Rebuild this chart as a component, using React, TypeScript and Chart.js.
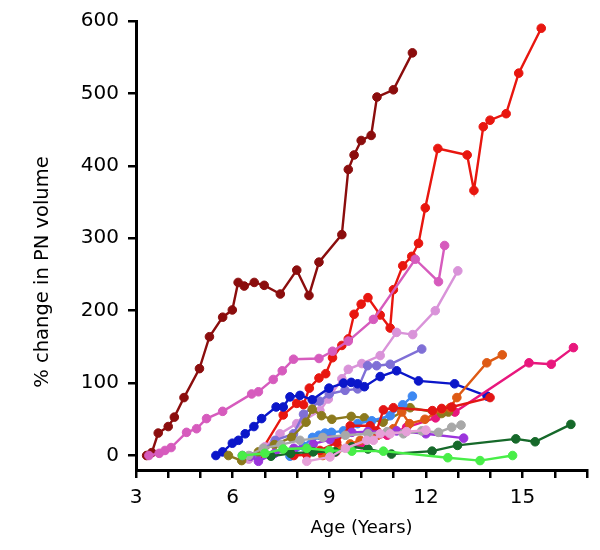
import { useEffect, useRef } from 'react';
import { Chart, registerables } from 'chart.js';

Chart.register(...registerables);

const FONT = '"DejaVu Sans", sans-serif';

// Axis ticks
const xTickValues = [3, 4, 5, 6, 7, 8, 9, 10, 11, 12, 13, 14, 15, 16, 17];
const xTickLabels = [3, 6, 9, 12, 15];
const yTickValues = [0, 100, 200, 300, 400, 500, 600];
const xTitle = 'Age (Years)';
const yTitle = '% change in PN volume';

// Series data (age in years, % change)
const maroonAge = [3.33, 3.49, 3.69, 4.0, 4.19, 4.49, 4.97, 5.28, 5.69, 5.99, 6.17, 6.36, 6.67, 6.98, 7.48, 7.99, 8.37, 8.68, 9.39, 9.59, 9.77, 9.99, 10.3, 10.48, 10.99, 11.58];
const maroonPct = [0, 4, 31, 40, 53, 80, 120, 164, 191, 201, 239, 234, 239, 235, 223, 256, 221, 267, 305, 395, 415, 435, 442, 495, 505, 556];

const redAge = [6.8, 7.57, 7.99, 8.2, 8.38, 8.68, 8.89, 9.1, 9.39, 9.59, 9.77, 9.99, 10.2, 10.58, 10.89, 10.99, 11.28, 11.56, 11.77, 11.98, 12.37, 13.28, 13.49, 13.78, 13.99, 14.49, 14.88, 15.58];
const redPct = [0, 56, 72, 70, 93, 107, 113, 135, 152, 161, 195, 209, 218, 194, 176, 229, 262, 275, 293, 342, 424, 415, 366, 454, 463, 472, 528, 590];

const orchidAge = [3.4, 3.72, 3.9, 4.09, 4.57, 4.88, 5.19, 5.69, 6.59, 6.8, 7.26, 7.54, 7.89, 8.68, 9.1, 9.59, 10.37, 11.67, 12.39, 12.58];
const orchidPct = [0, 3, 7, 11, 32, 37, 51, 61, 85, 88, 105, 117, 133, 134, 144, 158, 188, 271, 240, 290];

const plumAge = [6.5, 7.0, 7.47, 7.99, 8.2, 8.71, 8.97, 9.39, 9.59, 10.01, 10.58, 11.09, 11.59, 12.29, 12.99];
const plumPct = [-5, 12, 30, 44, 48, 62, 78, 106, 119, 127, 138, 170, 167, 200, 255];

const slateAge = [6.75, 7.32, 7.89, 8.2, 8.7, 9.0, 9.49, 9.88, 10.19, 10.47, 10.89, 11.87];
const slatePct = [0, 21, 30, 57, 75, 85, 90, 92, 124, 124, 126, 147];

const blueAge = [5.48, 5.69, 5.99, 6.18, 6.39, 6.66, 6.9, 7.35, 7.57, 7.78, 8.09, 8.47, 8.99, 9.44, 9.68, 9.88, 10.09, 10.58, 11.09, 11.77, 12.89, 13.9];
const bluePct = [0, 5, 17, 21, 30, 40, 51, 67, 67, 81, 83, 77, 93, 100, 101, 99, 95, 109, 117, 103, 99, 82];

const deepPinkAge = [9.2, 10.0, 10.8, 11.4, 12.3, 12.9, 15.2, 15.89, 16.58];
const deepPinkPct = [5, 15, 28, 39, 52, 60, 128, 126, 149];

const orangeAge = [8.8, 9.3, 9.65, 9.96, 10.5, 10.99, 11.25, 11.49, 11.97, 12.49, 12.75, 12.96, 13.89, 14.37];
const orangePct = [0, 10, 16, 21, 28, 37, 60, 44, 50, 64, 66, 80, 128, 139];

const oliveAge = [5.87, 6.28, 6.8, 7.3, 7.83, 8.28, 8.47, 8.76, 9.08, 9.68, 10.09, 10.67, 11.51, 12.49, 12.7];
const olivePct = [0, -7, 5, 15, 25, 46, 64, 55, 50, 54, 52, 46, 66, 58, 60];

const dodgerAge = [7.78, 8.2, 8.48, 8.68, 8.87, 9.07, 9.44, 9.88, 10.32, 10.89, 11.28, 11.58];
const dodgerPct = [-1, 13, 25, 28, 31, 32, 34, 44, 48, 55, 70, 82];

const grayAge = [6.5, 6.95, 7.5, 8.09, 8.8, 9.5, 10.2, 10.8, 11.3, 11.87, 12.39, 12.8, 13.09];
const grayPct = [0, 10, 15, 21, 25, 28, 30, 33, 30, 34, 32, 39, 42];

const violetAge = [6.3, 6.55, 6.8, 7.3, 7.9, 8.5, 9.02, 9.7, 10.2, 11.09, 12.0, 13.17];
const violetPct = [0, -1, -8, 3, 10, 16, 22, 32, 33, 34, 30, 24];

const darkGreenAge = [7.19, 7.8, 8.5, 9.18, 9.7, 10.2, 10.93, 12.19, 12.98, 14.79, 15.39, 16.5];
const darkGreenPct = [-1, 3, 5, 5, 12, 9, 2, 6, 14, 23, 19, 43];

const limeAge = [6.3, 7.0, 7.57, 8.3, 9.0, 9.7, 10.68, 12.68, 13.68, 14.69];
const limePct = [0, 3, 9, 10, 7, 6, 6, -3, -7, 0];

const red2Age = [7.9, 8.3, 8.71, 9.23, 9.65, 10.27, 10.47, 10.68, 10.99, 12.2, 12.49, 12.8, 13.99];
const red2Pct = [0, 1, 7, 18, 41, 41, 34, 63, 66, 62, 65, 67, 80];

const lightPinkAge = [8.3, 9.02, 9.5, 10.16, 10.37, 10.58, 10.89, 11.4, 12.0];
const lightPinkPct = [-8, -2, 10, 21, 21, 30, 30, 33, 35];

const seriesList = [
  { age: lightPinkAge, pct: lightPinkPct, color: '#e6a0d8' },
  { age: limeAge, pct: limePct, color: '#48ee48' },
  { age: darkGreenAge, pct: darkGreenPct, color: '#16692a' },
  { age: grayAge, pct: grayPct, color: '#a8a8a8' },
  { age: violetAge, pct: violetPct, color: '#9b35dc' },
  { age: red2Age, pct: red2Pct, color: '#e31515' },
  { age: orangeAge, pct: orangePct, color: '#de5a14' },
  { age: dodgerAge, pct: dodgerPct, color: '#3d88f2' },
  { age: oliveAge, pct: olivePct, color: '#8c7a1d' },
  { age: deepPinkAge, pct: deepPinkPct, color: '#e8177d' },
  { age: blueAge, pct: bluePct, color: '#0b16c9' },
  { age: slateAge, pct: slatePct, color: '#7f6fd6' },
  { age: plumAge, pct: plumPct, color: '#d993d9' },
  { age: orchidAge, pct: orchidPct, color: '#d65bbd' },
  { age: redAge, pct: redPct, color: '#e8160f' },
  { age: maroonAge, pct: maroonPct, color: '#8b0d0d' },
];

const yTitlePlugin = {
  id: 'yTitleRotated',
  afterDraw(chart: any) {
    const ctx = chart.ctx;
    ctx.save();
    ctx.translate(43, 272);
    ctx.rotate(-Math.PI / 2);
    ctx.font = `19.5px ${FONT}`;
    ctx.fillStyle = '#000';
    ctx.textAlign = 'center';
    ctx.textBaseline = 'middle';
    ctx.fillText(yTitle, 0, 0);
    ctx.restore();
  },
};

export default function App() {
  const ref = useRef<HTMLCanvasElement | null>(null);

  useEffect(() => {
    if (!ref.current) return;
    const datasets = seriesList.map((s) => ({
      data: s.age.map((a, i) => ({ x: a, y: s.pct[i] })),
      borderColor: s.color,
      backgroundColor: s.color,
      pointBackgroundColor: s.color,
      pointBorderColor: s.color,
      borderWidth: 2.4,
      pointRadius: 4.3,
      pointBorderWidth: 1,
      tension: 0,
      fill: false,
    }));

    const chart = new Chart(ref.current, {
      type: 'line',
      data: { datasets },
      plugins: [yTitlePlugin],
      options: {
        animation: false,
        responsive: false,
        events: [],
        layout: { padding: { left: 0, right: 13, top: 20, bottom: 0 } },
        plugins: { legend: { display: false }, tooltip: { enabled: false } },
        scales: {
          x: {
            type: 'linear',
            min: 3,
            max: 17,
            afterBuildTicks: (scale: any) => {
              scale.ticks = xTickValues.map((v) => ({ value: v }));
            },
            afterFit: (scale: any) => {
              scale.height = 80;
            },
            ticks: {
              autoSkip: false,
              maxRotation: 0,
              padding: 8,
              color: '#000',
              font: { family: FONT, size: 20 },
              callback: (v: any) => (xTickLabels.includes(Number(v)) ? String(v) : ''),
            },
            grid: {
              drawOnChartArea: false,
              drawTicks: true,
              tickLength: 8,
              color: '#000',
              lineWidth: 2.5,
            },
            border: { display: true, color: '#000', width: 3 },
            title: {
              display: true,
              text: xTitle,
              color: '#000',
              font: { family: FONT, size: 18 },
              padding: { top: 0, bottom: 11 },
            },
          },
          y: {
            type: 'linear',
            min: -20,
            max: 600,
            afterBuildTicks: (scale: any) => {
              scale.ticks = yTickValues.map((v) => ({ value: v }));
            },
            afterFit: (scale: any) => {
              scale.width = 136;
            },
            ticks: {
              padding: 9,
              color: '#000',
              font: { family: FONT, size: 20 },
              callback: (v: any) => String(v),
            },
            grid: {
              drawOnChartArea: false,
              drawTicks: true,
              tickLength: 8,
              color: '#000',
              lineWidth: 2.5,
            },
            border: { display: true, color: '#000', width: 3 },
          },
        },
      },
    });
    return () => chart.destroy();
  }, []);

  return (
    <div style={{ position: 'absolute', left: 0, top: 0, width: 600, height: 550, background: '#fff' }}>
      <canvas ref={ref} width={600} height={550} style={{ width: 600, height: 550, display: 'block' }} />
    </div>
  );
}
